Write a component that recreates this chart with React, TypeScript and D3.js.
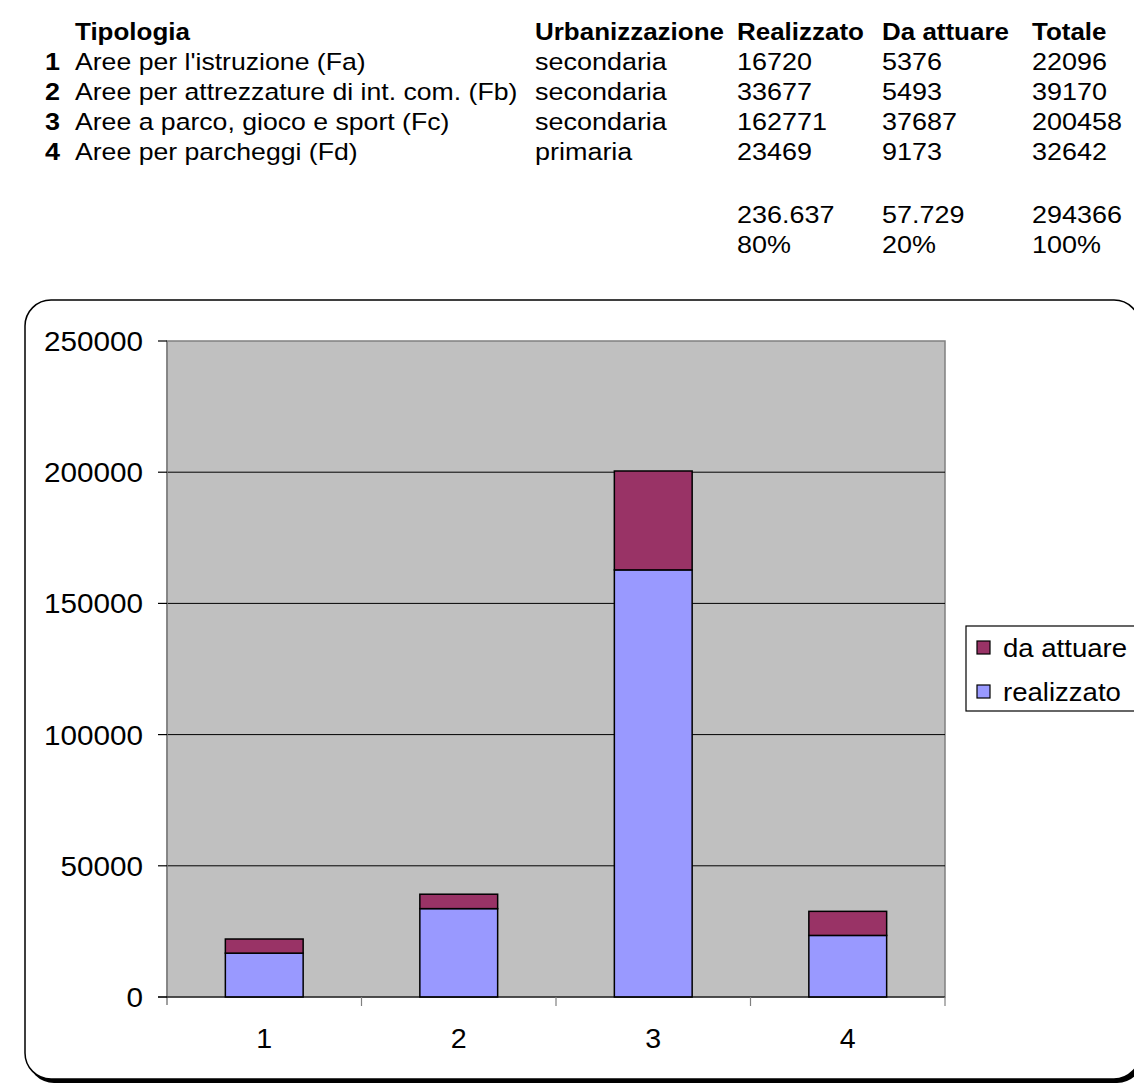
import React from "react";
import * as d3 from "d3";

const categories = ["1", "2", "3", "4"];
const tipologia = [
  "Aree per l'istruzione (Fa)",
  "Aree per attrezzature di int. com. (Fb)",
  "Aree a parco, gioco e sport (Fc)",
  "Aree per parcheggi (Fd)",
];
const urbanizzazione = ["secondaria", "secondaria", "secondaria", "primaria"];
const realizzato = [16720, 33677, 162771, 23469];
const daAttuare = [5376, 5493, 37687, 9173];
const totale = [22096, 39170, 200458, 32642];
const sumLabels = ["236.637", "57.729", "294366"];
const pctLabels = ["80%", "20%", "100%"];
const headers = ["Tipologia", "Urbanizzazione", "Realizzato", "Da attuare", "Totale"];
const yTicks = [0, 50000, 100000, 150000, 200000, 250000];
const seriesNames = ["da attuare", "realizzato"];
const colors = { realizzato: "#9999FF", daAttuare: "#993366" };

const FONT = "'Liberation Sans', Arial, sans-serif";

function T({ x, y, size, bold, anchor, sx, children }: any) {
  return (
    <text
      transform={`translate(${x},${y}) scale(${sx ?? 1.1},1)`}
      fontFamily={FONT}
      fontSize={size}
      fontWeight={bold ? "bold" : "normal"}
      textAnchor={anchor ?? "start"}
      fill="#000"
    >
      {children}
    </text>
  );
}

export default function App() {
  const left = 167, right = 945, top = 341, bottom = 997;
  const x = d3.scaleBand().domain(categories).range([left, right]).paddingInner(0.6).paddingOuter(0.3);
  const xb = d3.scaleBand().domain(categories).range([left, right]);
  const y = d3.scaleLinear().domain([0, 250000]).range([bottom, top]);

  const colX = [75, 535, 737, 882, 1032];
  const rowY = [40, 70, 100, 130, 160];
  const fs = 24.5;

  return (
    <svg width={1134} height={1087} style={{ position: "absolute", left: 0, top: 0, background: "#fff" }}>
      {/* table */}
      {headers.map((h, i) => (
        <T key={h} x={colX[i]} y={rowY[0]} size={fs} bold sx={1.06}>{h}</T>
      ))}
      {categories.map((c, i) => (
        <g key={c}>
          <T x={45} y={rowY[i + 1]} size={fs} bold>{c}</T>
          <T x={colX[0]} y={rowY[i + 1]} size={fs} sx={1.087}>{tipologia[i]}</T>
          <T x={colX[1]} y={rowY[i + 1]} size={fs}>{urbanizzazione[i]}</T>
          <T x={colX[2]} y={rowY[i + 1]} size={fs}>{realizzato[i]}</T>
          <T x={colX[3]} y={rowY[i + 1]} size={fs}>{daAttuare[i]}</T>
          <T x={colX[4]} y={rowY[i + 1]} size={fs}>{totale[i]}</T>
        </g>
      ))}
      {sumLabels.map((s, i) => (
        <T key={"s" + i} x={colX[i + 2]} y={223} size={fs}>{s}</T>
      ))}
      {pctLabels.map((s, i) => (
        <T key={"p" + i} x={colX[i + 2]} y={253} size={fs}>{s}</T>
      ))}

      {/* chart frame with shadow */}
      <rect x={28} y={303} width={1115} height={780} rx={26} fill="#000" />
      <rect x={25} y={300} width={1115} height={779} rx={26} fill="#fff" stroke="#000" strokeWidth={1.5} />

      {/* plot area */}
      <rect x={left} y={top} width={right - left} height={bottom - top} fill="#C0C0C0" stroke="#808080" strokeWidth={1.5} />
      {yTicks.filter((t) => t > 0 && t < 250000).map((t) => (
        <line key={t} x1={left} x2={right} y1={y(t)} y2={y(t)} stroke="#000" strokeWidth={1} />
      ))}

      {/* bars */}
      {categories.map((c, i) => {
        const bx = x(c)!;
        const bw = x.bandwidth();
        return (
          <g key={"b" + c}>
            <rect x={bx} y={y(realizzato[i])} width={bw} height={y(0) - y(realizzato[i])} fill={colors.realizzato} stroke="#000" strokeWidth={1.5} />
            <rect x={bx} y={y(realizzato[i] + daAttuare[i])} width={bw} height={y(realizzato[i]) - y(realizzato[i] + daAttuare[i])} fill={colors.daAttuare} stroke="#000" strokeWidth={1.5} />
          </g>
        );
      })}

      {/* axes */}
      <line x1={left} x2={left} y1={top} y2={bottom + 8} stroke="#808080" strokeWidth={1.5} />
      <line x1={left - 9} x2={right} y1={bottom} y2={bottom} stroke="#000" strokeWidth={1.2} />
      {yTicks.map((t) => (
        <g key={"yt" + t}>
          <line x1={left - 9} x2={left} y1={y(t)} y2={y(t)} stroke="#000" strokeWidth={1.2} />
          <T x={143} y={y(t) + 10} size={28} anchor="end" sx={1.06}>{t}</T>
        </g>
      ))}
      {categories.map((c, i) => (
        <line key={"xt" + c} x1={xb(c)! + xb.bandwidth()} x2={xb(c)! + xb.bandwidth()} y1={bottom} y2={bottom + 9} stroke="#808080" strokeWidth={1.2} />
      ))}
      {categories.map((c) => (
        <T key={"xl" + c} x={x(c)! + x.bandwidth() / 2} y={1048} size={27} anchor="middle" sx={1.06}>{c}</T>
      ))}

      {/* legend */}
      <rect x={966} y={626} width={180} height={85} fill="#fff" stroke="#000" strokeWidth={1.2} />
      {seriesNames.map((s, i) => (
        <g key={s}>
          <rect x={977} y={641 + i * 44} width={13} height={13} fill={i === 0 ? colors.daAttuare : colors.realizzato} stroke="#000" strokeWidth={1.2} />
          <T x={1003} y={657 + i * 44} size={26} sx={1.06}>{s}</T>
        </g>
      ))}
    </svg>
  );
}
